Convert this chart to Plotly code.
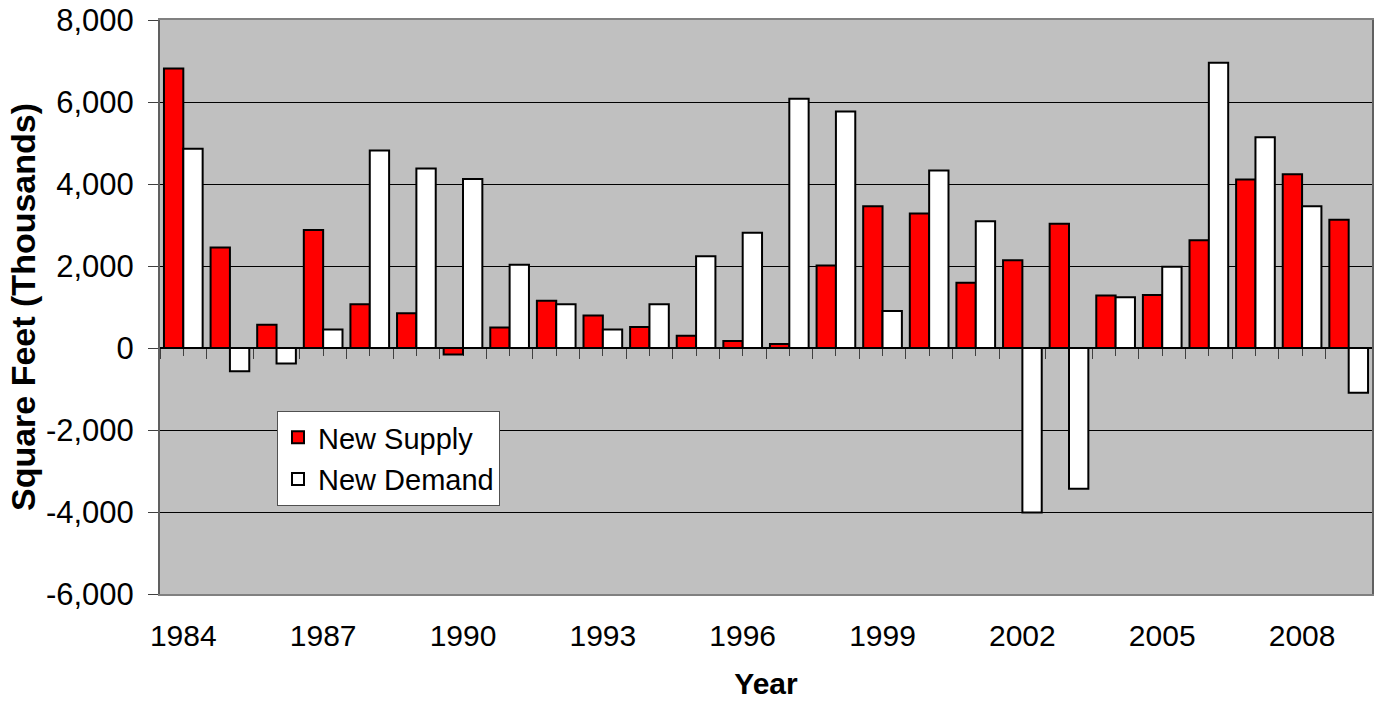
import plotly.graph_objects as go

years = list(range(1984, 2010))
new_supply = [6820, 2450, 570, 2880, 1070, 850, -160, 500, 1150, 790,
              510, 300, 170, 100, 2010, 3460, 3280, 1590, 2140, 3030,
              1280, 1290, 2630, 4110, 4240, 3130]
new_demand = [4860, -570, -380, 450, 4820, 4380, 4120, 2030, 1070, 450,
              1070, 2240, 2810, 6080, 5770, 900, 4330, 3090, -4010, -3430,
              1240, 1980, 6960, 5140, 3460, -1090]
x_tick_years = [1984, 1987, 1990, 1993, 1996, 1999, 2002, 2005, 2008]
y_ticks = [-6000, -4000, -2000, 0, 2000, 4000, 6000, 8000]
y_tick_text = ["-6,000", "-4,000", "-2,000", "0", "2,000", "4,000", "6,000", "8,000"]

FONT = "Liberation Sans, Arial, sans-serif"

fig = go.Figure()
fig.add_trace(go.Bar(x=years, y=new_supply, name="New Supply",
                     marker=dict(color="#FF0000", line=dict(color="black", width=2)),
                     legendgroup="a"))
fig.add_trace(go.Bar(x=years, y=new_demand, name="New Demand",
                     marker=dict(color="#FFFFFF", line=dict(color="black", width=2)),
                     legendgroup="b"))
# invisible trace to host the tick-mark axis on the zero line
fig.add_trace(go.Scatter(x=[years[0]], y=[0], xaxis="x2", yaxis="y",
                         mode="markers", marker=dict(opacity=0),
                         showlegend=False, hoverinfo="skip"))

fig.update_layout(
    width=1375, height=704,
    margin=dict(l=160, r=3, t=20, b=110),
    paper_bgcolor="white",
    plot_bgcolor="#C0C0C0",
    barmode="group",
    bargap=0.17,
    bargroupgap=0,
    font=dict(family=FONT, color="black", size=28),
    xaxis=dict(
        range=[years[0] - 0.5, years[-1] + 0.5],
        tickmode="array", tickvals=x_tick_years,
        ticktext=[str(y) for y in x_tick_years],
        ticks="", ticklabelstandoff=14,
        tickfont=dict(size=30),
        showgrid=False, zeroline=False, automargin=False,
        showline=True, linecolor="#808080", linewidth=2, mirror=True,
        title=dict(text="<b>Year</b>", font=dict(size=30), standoff=22),
    ),
    xaxis2=dict(
        overlaying="x", anchor="free",
        position=(0 - y_ticks[0]) / (y_ticks[-1] - y_ticks[0]),
        range=[years[0] - 0.5, years[-1] + 0.5],
        tick0=years[0] - 0.5, dtick=1,
        ticks="outside", ticklen=10, tickcolor="#404040", tickwidth=1,
        minor=dict(dtick=0.5, tick0=years[0] - 0.5, ticks="outside",
                   ticklen=7, tickcolor="#404040", tickwidth=1),
        showticklabels=False, showgrid=False, zeroline=False,
        showline=False, layer="below traces", automargin=False,
    ),
    yaxis=dict(
        range=[y_ticks[0], y_ticks[-1]],
        tickmode="array", tickvals=y_ticks, ticktext=y_tick_text,
        ticks="outside", ticklen=10, tickcolor="#404040", tickwidth=1,
        ticklabelstandoff=8, ticklabeloverflow="allow",
        tickfont=dict(size=31),
        showgrid=True, gridcolor="black", gridwidth=1,
        zeroline=True, zerolinecolor="black", zerolinewidth=1.5,
        showline=True, linecolor="#606060", linewidth=2, mirror=True,
        automargin=False,
        title=dict(text="<b>Square Feet (Thousands)</b>", font=dict(size=34), standoff=0),
    ),
    legend=dict(
        x=(277 - 160) / 1212, y=(594 - 411) / 574,
        xanchor="left", yanchor="top",
        bgcolor="white", bordercolor="#505050", borderwidth=1,
        font=dict(size=29), tracegroupgap=1,
        itemwidth=30,
    ),
)

# remove the browser's default 8px body margin so the figure fills the window
fig.write_html("out.html",
               config={"displayModeBar": False},
               post_script="document.body.style.margin='0';document.body.style.overflow='hidden';")
